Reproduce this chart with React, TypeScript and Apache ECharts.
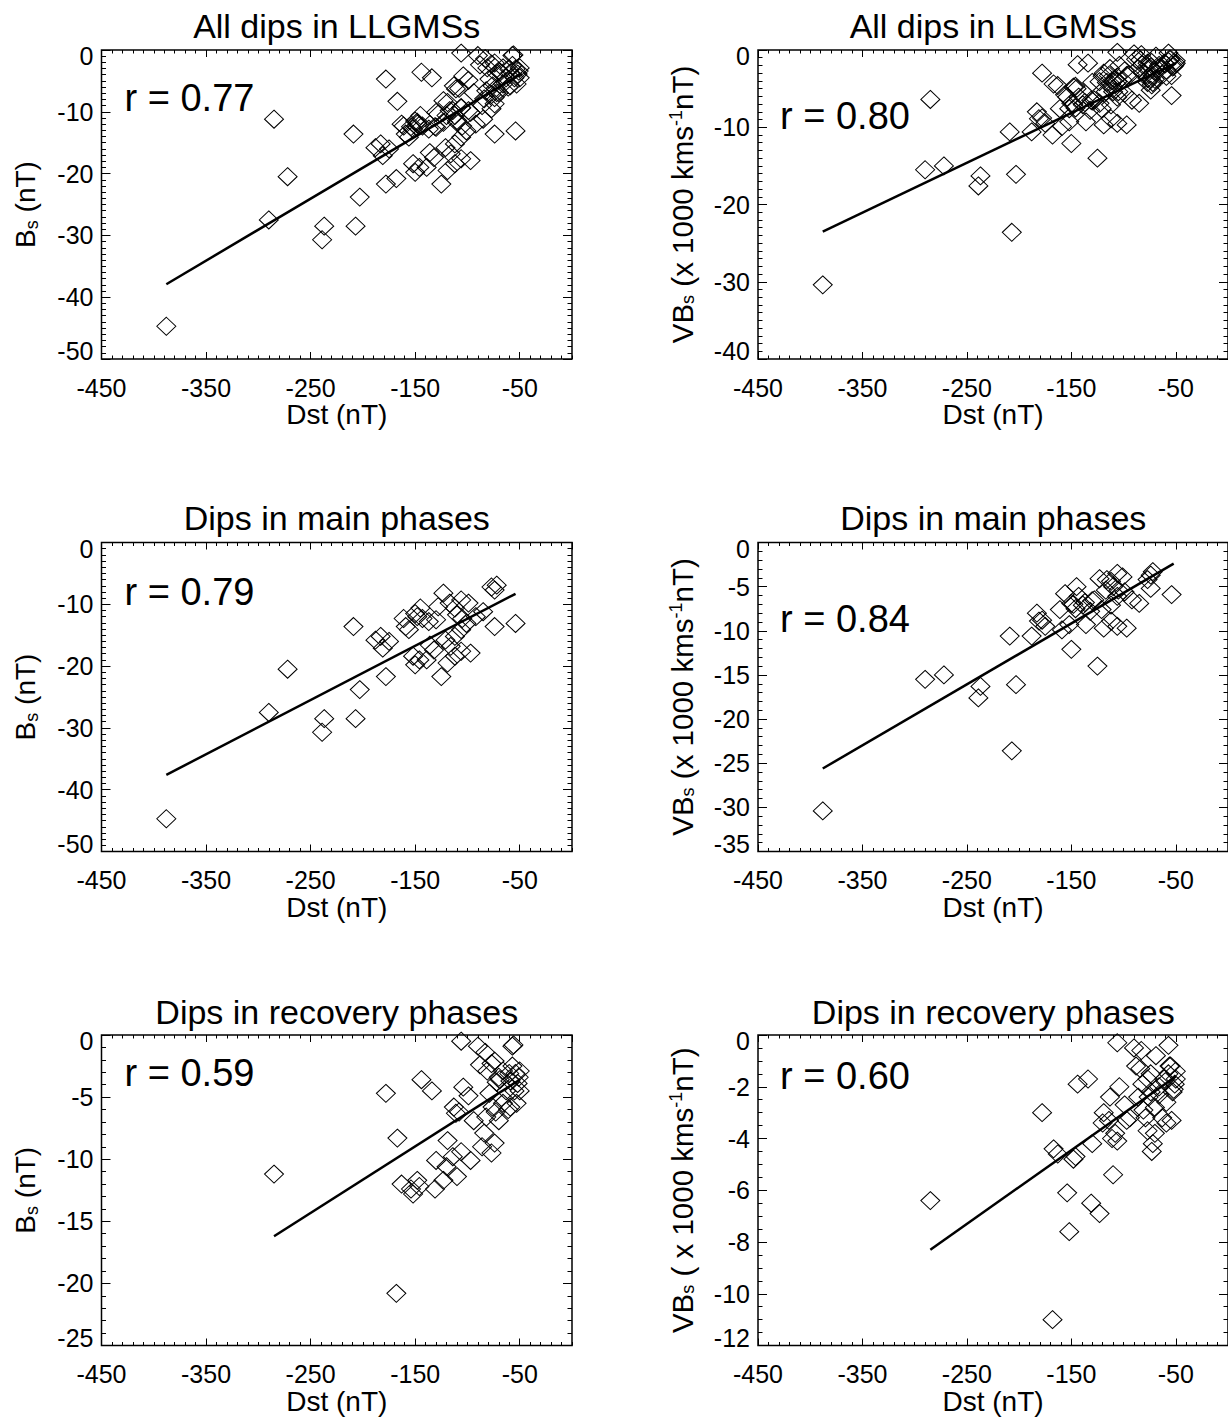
import React, { useEffect, useRef } from 'react';
import * as echarts from 'echarts';

// ---- Data ----
// Main-phase dips: Dst (nT), Bs (nT), VBs (x1000 km s^-1 nT)
const mainDst = [-388, -290, -272, -239, -237, -209, -207, -203, -188, -183, -181, -178, -175, -161, -159, -156, -152, -150, -150, -148, -146, -145, -143, -139, -137, -136, -132, -130, -128, -125, -123, -121, -119, -117, -116, -112, -112, -112, -110, -106, -106, -106, -105, -101, -99, -97, -92, -85, -77, -74, -74, -72, -54];
const mainBs = [-44.7, -27.5, -20.5, -30.7, -28.5, -13.6, -28.5, -23.8, -15.8, -15.2, -17.1, -21.7, -16.0, -12.3, -13.6, -14.1, -18.4, -19.8, -11.5, -12.0, -19.0, -10.6, -12.3, -19.0, -12.8, -16.6, -17.4, -12.5, -10.4, -21.7, -8.2, -15.8, -19.5, -9.8, -16.8, -18.4, -15.2, -10.6, -11.7, -9.3, -14.1, -17.6, -12.3, -13.1, -9.8, -17.9, -12.0, -11.2, -7.2, -13.6, -7.7, -6.9, -13.1];
const mainVBs = [-30.4, -15.5, -15.0, -17.6, -16.3, -10.6, -23.6, -16.1, -10.6, -8.0, -8.9, -8.8, -9.5, -7.6, -9.9, -5.8, -9.3, -12.1, -6.9, -7.0, -7.5, -5.0, -6.1, -7.1, -6.8, -9.3, -7.8, -6.6, -6.5, -14.0, -4.1, -7.6, -9.7, -5.4, -4.2, -8.9, -7.1, -4.4, -5.0, -3.5, -6.1, -9.5, -5.4, -3.9, -5.6, -9.7, -6.5, -6.9, -4.2, -5.2, -3.7, -3.3, -5.9];

// Recovery-phase dips
const recDst = [-285, -178, -168, -167, -163, -154, -152, -148, -146, -144, -134, -131, -130, -123, -120, -119, -114, -113, -111, -110, -108, -106, -106, -104, -99, -97, -94, -90, -88, -86, -84, -83, -82, -81, -79, -77, -77, -76, -74, -74, -73, -72, -70, -70, -69, -66, -66, -63, -61, -59, -59, -57, -57, -56, -55, -54, -53, -52, -51, -50, -50, -60];
const recBs = [-11.2, -4.7, -20.8, -8.3, -12.0, -12.4, -12.8, -11.7, -12.2, -3.6, -4.5, -12.4, -10.1, -11.7, -10.6, -8.5, -9.8, -5.8, -6.3, -11.4, -6.2, -9.4, -0.5, -4.2, -4.9, -10.1, -6.9, -0.9, -2.4, -9.0, -7.9, -1.4, -6.6, -2.9, -4.7, -2.3, -9.5, -5.8, -8.7, -2.1, -6.2, -3.8, -3.4, -6.9, -3.6, -5.5, -2.9, -4.5, -6.0, -3.7, -5.8, -0.9, -2.5, -0.8, -4.5, -3.1, -5.5, -3.9, -3.4, -2.9, -4.5, -3.1];
const recVBs = [-6.4, -3.0, -11.0, -4.4, -4.6, -6.1, -7.6, -4.8, -4.7, -1.9, -1.7, -6.5, -4.2, -6.9, -3.4, -3.0, -3.3, -2.4, -4.0, -5.4, -3.8, -4.1, -0.3, -2.0, -2.7, -3.3, -3.2, -0.5, -1.2, -2.4, -1.3, -0.6, -1.9, -2.9, -3.2, -1.7, -3.7, -2.4, -2.2, -1.5, -4.5, -4.2, -2.8, -3.8, -0.8, -2.0, -2.3, -3.2, -1.7, -2.6, -3.4, -1.5, -0.4, -1.2, -1.2, -3.3, -2.2, -2.1, -1.9, -1.4, -1.7, -1.8];

// Linear fit lines (end points)
const fitAllBsX = [-388, -48];
const fitAllBsY = [-37.9, -3.8];
const fitAllVBsX = [-388, -50];
const fitAllVBsY = [-23.5, -1.7];
const fitMainBsX = [-388, -54];
const fitMainBsY = [-37.6, -8.3];
const fitMainVBsX = [-388, -52];
const fitMainVBsY = [-25.6, -2.4];
const fitRecBsX = [-285, -50];
const fitRecBsY = [-16.2, -3.6];
const fitRecVBsX = [-285, -50];
const fitRecVBsY = [-8.3, -1.6];

// Texts
const titles = ['All dips in LLGMSs', 'Dips in main phases', 'Dips in recovery phases'];
const rTexts = ['r = 0.77', 'r = 0.80', 'r = 0.79', 'r = 0.84', 'r = 0.59', 'r = 0.60'];
const xName = 'Dst (nT)';
const bsName = '{m|B}{s|s}{m| (nT)}';
const vbsName = '{v|VB}{s|s}{v| (x 1000 kms}{p|-1}{v|nT)}';
const vbsNameRec = '{v|VB}{s|s}{v| ( x 1000 kms}{p|-1}{v|nT)}';

// Axes ranges
const xMin = -450;
const xMax = 0;
const xStep = 100;
const xMinorStep = 10;
const yMins = [-50, -40, -50, -35, -25, -12];
const ySteps = [10, 10, 10, 5, 5, 2];
const yMinorSplits = [10, 10, 10, 5, 5, 4];

const FONT = '"Liberation Sans", Arial, Helvetica, sans-serif';

const colLeft = [101.5, 758];
const colWidth = [470.5, 472];
const rowTop = [50, 542.5, 1035];
const rowHeight = [309, 309, 310.5];
const rCenterY = [98.3, 115.8, 591.7, 619, 1073.3, 1075.8];
const titleY = [25.5, 517.5, 1011.5];

function zip(a: number[], b: number[]) {
  return a.map((v, i) => [v, b[i]]);
}

export default function App() {
  const ref = useRef<HTMLDivElement>(null);

  useEffect(() => {
    const chart = echarts.init(ref.current!, null, { renderer: 'svg' });

    const allDst = [...mainDst, ...recDst];
    const panels = [
      { x: allDst, y: [...mainBs, ...recBs], name: bsName, fx: fitAllBsX, fy: fitAllBsY },
      { x: allDst, y: [...mainVBs, ...recVBs], name: vbsName, fx: fitAllVBsX, fy: fitAllVBsY },
      { x: mainDst, y: mainBs, name: bsName, fx: fitMainBsX, fy: fitMainBsY },
      { x: mainDst, y: mainVBs, name: vbsName, fx: fitMainVBsX, fy: fitMainVBsY },
      { x: recDst, y: recBs, name: bsName, fx: fitRecBsX, fy: fitRecBsY },
      { x: recDst, y: recVBs, name: vbsNameRec, fx: fitRecVBsX, fy: fitRecVBsY },
    ];

    const grid: any[] = [];
    const xAxis: any[] = [];
    const yAxis: any[] = [];
    const series: any[] = [];
    const graphic: any[] = [];

    const tickStyle = { color: '#000', width: 1 };
    const labelFont = { fontSize: 25, fontFamily: FONT, color: '#000' };

    panels.forEach((p, i) => {
      const row = Math.floor(i / 2);
      const col = i % 2;
      grid.push({
        left: colLeft[col],
        top: rowTop[row],
        width: colWidth[col],
        height: rowHeight[row],
        show: true,
        borderColor: '#000',
        borderWidth: 1.5,
        backgroundColor: 'transparent',
        containLabel: false,
      });

      const baseX = {
        gridIndex: i,
        type: 'value',
        min: xMin,
        max: xMax,
        axisLine: { show: false, onZero: false },
        splitLine: { show: false },
      };
      // bottom major with labels
      xAxis.push({
        ...baseX,
        position: 'bottom',
        interval: xStep,
        axisTick: { show: true, inside: true, length: 7, lineStyle: tickStyle },
        axisLabel: { show: true, showMinLabel: true, showMaxLabel: false, margin: 16, ...labelFont },
        name: xName,
        nameLocation: 'middle',
        nameGap: 38,
        nameTextStyle: { fontSize: 28, fontFamily: FONT, color: '#000' },
      });
      // top major
      xAxis.push({
        ...baseX,
        position: 'top',
        interval: xStep,
        axisTick: { show: true, inside: true, length: 7, lineStyle: tickStyle },
        axisLabel: { show: false },
      });
      // bottom minor
      xAxis.push({
        ...baseX,
        position: 'bottom',
        interval: xMinorStep,
        axisTick: { show: true, inside: true, length: 3.5, lineStyle: tickStyle },
        axisLabel: { show: false },
      });
      // top minor
      xAxis.push({
        ...baseX,
        position: 'top',
        interval: xMinorStep,
        axisTick: { show: true, inside: true, length: 3.5, lineStyle: tickStyle },
        axisLabel: { show: false },
      });

      const yMin = yMins[i];
      const baseY = {
        gridIndex: i,
        type: 'value',
        min: yMin,
        max: 0,
        interval: ySteps[i],
        axisLine: { show: false, onZero: false },
        splitLine: { show: false },
        axisTick: { show: true, inside: true, length: 9, lineStyle: tickStyle },
        minorTick: { show: true, splitNumber: yMinorSplits[i], length: 4.5, lineStyle: tickStyle },
      };
      yAxis.push({
        ...baseY,
        position: 'left',
        axisLabel: {
          show: true,
          showMinLabel: true,
          showMaxLabel: true,
          margin: 8,
          ...labelFont,
          formatter: (v: number) => {
            const s = String(v);
            if (v === 0) return '{t|' + s + '}';
            if (v === yMin) return '{b|' + s + '}';
            return s;
          },
          rich: {
            t: { ...labelFont, padding: [12, 0, 0, 0] },
            b: { ...labelFont, padding: [0, 0, 16, 0] },
          },
        },
        name: p.name,
        nameLocation: 'middle',
        nameRotate: 90,
        nameGap: 61,
        nameTextStyle: {
          fontSize: 28,
          fontFamily: FONT,
          color: '#000',
          rich: {
            m: { fontSize: 28, fontFamily: FONT, color: '#000', lineHeight: 30 },
            v: { fontSize: 29.5, fontFamily: FONT, color: '#000', lineHeight: 30 },
            s: { fontSize: 18, fontFamily: FONT, color: '#000', lineHeight: 18, verticalAlign: 'bottom' },
            p: { fontSize: 18, fontFamily: FONT, color: '#000', lineHeight: 18, verticalAlign: 'top' },
          },
        },
      });
      yAxis.push({
        ...baseY,
        position: 'right',
        axisLabel: { show: false },
      });

      series.push({
        type: 'scatter',
        xAxisIndex: i * 4,
        yAxisIndex: i * 2,
        data: zip(p.x, p.y),
        symbol: 'diamond',
        symbolSize: [19, 18],
        itemStyle: { color: 'rgba(0,0,0,0)', borderColor: '#000', borderWidth: 1, opacity: 1 },
        clip: true,
        silent: true,
        z: 2,
      });
      series.push({
        type: 'line',
        xAxisIndex: i * 4,
        yAxisIndex: i * 2,
        data: zip(p.fx, p.fy),
        showSymbol: false,
        symbol: 'none',
        lineStyle: { color: '#000', width: 2.5 },
        clip: true,
        silent: true,
        z: 3,
      });

      graphic.push({
        type: 'text',
        x: col === 0 ? 124.5 : 780,
        y: rCenterY[i],
        silent: true,
        style: {
          text: rTexts[i],
          fill: '#000',
          fontSize: 38,
          fontFamily: FONT,
          align: 'left',
          verticalAlign: 'middle',
          textAlign: 'left',
          textVerticalAlign: 'middle',
        },
      });
      graphic.push({
        type: 'text',
        x: colLeft[col] + 470.5 / 2,
        y: titleY[row],
        silent: true,
        style: {
          text: titles[row],
          fill: '#000',
          fontSize: 34,
          fontFamily: FONT,
          align: 'center',
          verticalAlign: 'middle',
          textAlign: 'center',
          textVerticalAlign: 'middle',
        },
      });
    });

    chart.setOption({
      animation: false,
      backgroundColor: '#fff',
      textStyle: { fontFamily: FONT },
      grid,
      xAxis,
      yAxis,
      series,
      graphic,
    });

    return () => chart.dispose();
  }, []);

  return (
    <div
      ref={ref}
      style={{ position: 'fixed', left: 0, top: 0, width: 1228, height: 1417, background: '#fff' }}
    />
  );
}
